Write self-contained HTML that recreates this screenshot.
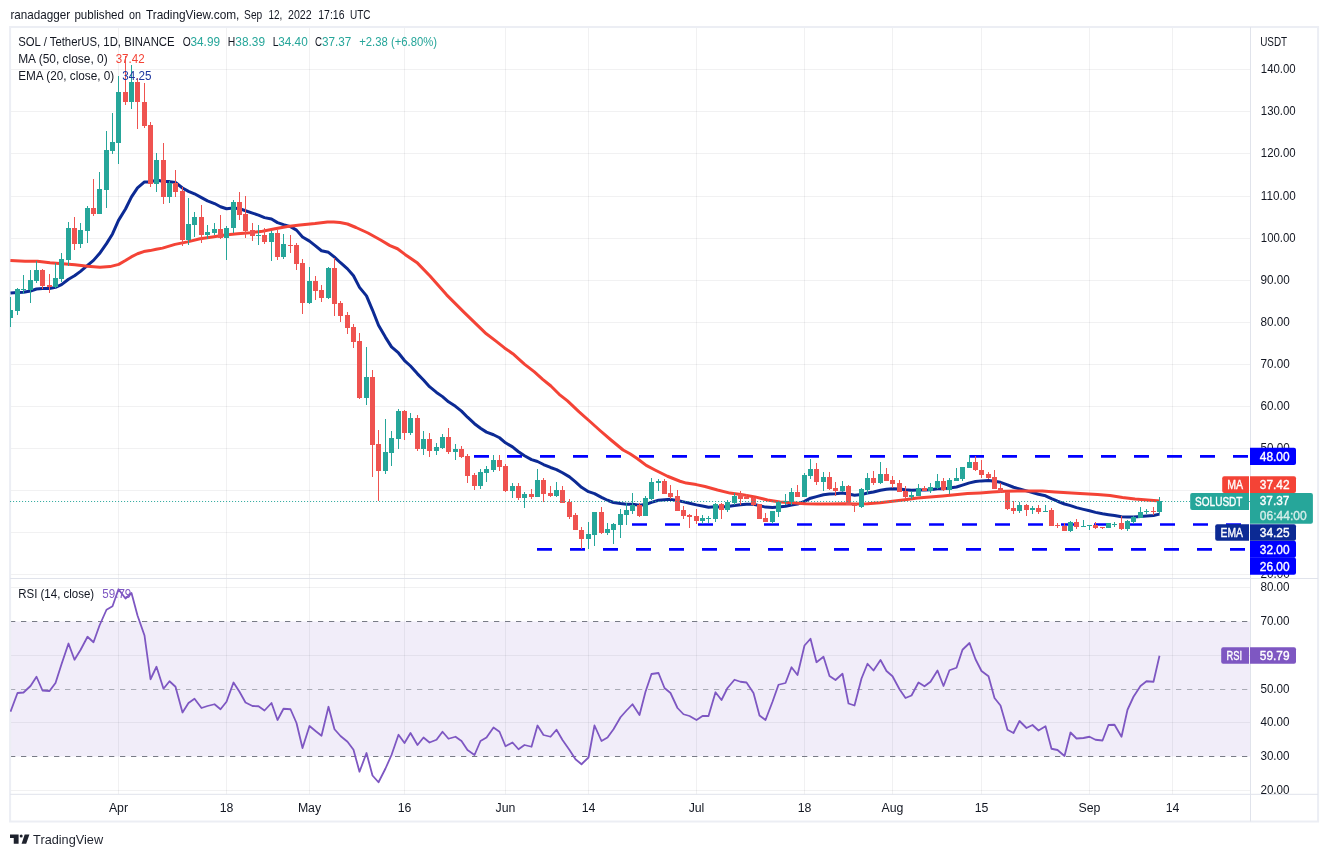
<!DOCTYPE html>
<html><head><meta charset="utf-8"><title>SOL / TetherUS</title>
<style>html,body{margin:0;padding:0;background:#fff}svg{display:block}</style>
</head><body>
<svg width="1328" height="857" viewBox="0 0 1328 857" font-family="Liberation Sans, sans-serif" font-size="12.3" fill="#131722" style="will-change:transform">
<rect width="1328" height="857" fill="#fff"/>
<defs>
<clipPath id="cm"><rect x="10" y="27.05" width="1240.5" height="551.45"/></clipPath>
<clipPath id="cr"><rect x="10" y="578.5" width="1240.5" height="215.79999999999995"/></clipPath>
<clipPath id="cam"><rect x="1250.5" y="27.05" width="67.59999999999991" height="551.45"/></clipPath>
<clipPath id="car"><rect x="1250.5" y="578.5" width="67.59999999999991" height="215.79999999999995"/></clipPath>
</defs>
<rect x="10.1" y="621.5" width="1240.4" height="135" fill="#f1edf9"/>
<path d="M118.50 27.05V794.3M226.50 27.05V794.3M309.50 27.05V794.3M404.50 27.05V794.3M505.50 27.05V794.3M588.50 27.05V794.3M696.50 27.05V794.3M804.50 27.05V794.3M892.50 27.05V794.3M981.50 27.05V794.3M1089.50 27.05V794.3M1172.50 27.05V794.3M10.1 69.50H1250.5M10.1 111.50H1250.5M10.1 153.50H1250.5M10.1 196.50H1250.5M10.1 238.50H1250.5M10.1 280.50H1250.5M10.1 322.50H1250.5M10.1 364.50H1250.5M10.1 406.50H1250.5M10.1 448.50H1250.5M10.1 490.50H1250.5M10.1 532.50H1250.5M10.1 574.50H1250.5M10.1 587.50H1250.5M10.1 655.50H1250.5M10.1 722.50H1250.5M10.1 790.50H1250.5" stroke="#2a2e39" stroke-opacity="0.065" stroke-width="1" fill="none"/>
<path d="M10.0 621.50H1250.5" stroke="#787b86" stroke-width="1" stroke-dasharray="5.3 5.7" fill="none"/>
<path d="M10.0 756.50H1250.5" stroke="#787b86" stroke-width="1" stroke-dasharray="5.3 5.7" fill="none"/>
<path d="M10.0 689.50H1250.5" stroke="#a9abb5" stroke-width="1" stroke-dasharray="5.3 5.7" fill="none"/>
<rect x="10.1" y="27.05" width="1308.0" height="794.45" fill="none" stroke="#eceef4" stroke-width="2"/>
<g clip-path="url(#cm)">
<path d="M474 456.40H1250.5" stroke="#0000ff" stroke-width="2.7" stroke-dasharray="15 18" fill="none"/>
<path d="M632 524.50H1250.5" stroke="#0000ff" stroke-width="2.7" stroke-dasharray="15 18" fill="none"/>
<path d="M537 549.40H1250.5" stroke="#0000ff" stroke-width="2.7" stroke-dasharray="15 18" fill="none"/>
<path d="M10.50 292.99 L17.50 292.57 L23.50 292.20 L30.50 291.00 L36.50 288.96 L42.50 288.60 L49.50 288.40 L55.50 287.38 L61.50 284.65 L68.50 279.23 L74.50 275.79 L80.50 271.39 L87.50 265.33 L93.50 260.38 L99.50 253.54 L106.50 243.64 L112.50 233.94 L118.50 220.40 L125.50 209.04 L131.50 196.93 L137.50 187.90 L144.50 181.93 L150.50 182.06 L156.50 179.92 L163.50 181.50 L169.50 181.62 L175.50 182.56 L182.50 187.97 L188.50 191.36 L194.50 193.77 L201.50 197.64 L207.50 200.90 L214.50 203.55 L220.50 206.74 L226.50 208.74 L233.50 208.08 L239.50 208.67 L245.50 210.75 L252.50 213.08 L258.50 215.13 L264.50 217.64 L271.50 219.07 L277.50 222.64 L283.50 224.63 L290.50 226.63 L296.50 230.13 L302.50 237.00 L309.50 241.16 L315.50 245.83 L321.50 250.74 L328.50 252.33 L334.50 257.19 L340.50 262.74 L347.50 268.89 L353.50 275.81 L359.50 287.39 L366.50 295.90 L372.50 310.04 L378.50 325.32 L385.50 337.36 L391.50 346.92 L398.50 352.98 L404.50 360.54 L410.50 365.99 L417.50 373.83 L423.50 380.00 L429.50 386.69 L436.50 392.41 L442.50 396.63 L448.50 401.85 L455.50 406.30 L461.50 411.08 L467.50 417.21 L474.50 423.71 L480.50 428.29 L486.50 432.13 L493.50 434.74 L499.50 437.76 L505.50 442.80 L512.50 446.90 L518.50 451.71 L524.50 455.70 L531.50 459.59 L537.50 461.49 L543.50 464.53 L550.50 467.49 L556.50 469.59 L562.50 472.72 L569.50 476.89 L575.50 481.89 L581.50 487.26 L588.50 491.69 L594.50 493.60 L601.50 497.30 L607.50 500.28 L613.50 502.51 L620.50 503.58 L626.50 504.15 L632.50 504.20 L639.50 505.27 L645.50 504.55 L651.50 502.38 L658.50 500.30 L664.50 499.67 L670.50 499.36 L677.50 500.42 L683.50 501.85 L689.50 503.22 L696.50 504.87 L702.50 506.09 L708.50 507.20 L715.50 506.87 L721.50 507.10 L727.50 506.59 L734.50 505.54 L740.50 504.86 L746.50 504.24 L753.50 504.25 L759.50 505.59 L765.50 507.11 L772.50 507.44 L778.50 506.89 L785.50 506.32 L791.50 504.93 L797.50 504.12 L804.50 501.31 L810.50 498.20 L816.50 496.60 L823.50 494.71 L829.50 494.10 L835.50 493.76 L842.50 492.98 L848.50 494.06 L854.50 495.21 L861.50 494.59 L867.50 492.99 L873.50 491.99 L880.50 490.23 L886.50 489.31 L892.50 488.74 L899.50 489.00 L905.50 489.71 L911.50 490.18 L918.50 489.94 L924.50 489.99 L930.50 489.68 L937.50 488.82 L943.50 488.87 L949.50 487.99 L956.50 487.01 L962.50 485.08 L969.50 482.85 L975.50 481.57 L981.50 480.88 L988.50 480.56 L994.50 481.30 L1000.50 482.33 L1007.50 484.80 L1013.50 487.25 L1019.50 488.90 L1026.50 490.85 L1032.50 492.46 L1038.50 494.27 L1045.50 495.79 L1051.50 498.61 L1057.50 501.23 L1064.50 503.99 L1070.50 505.68 L1076.50 507.64 L1083.50 509.34 L1089.50 510.79 L1095.50 512.37 L1102.50 513.81 L1108.50 514.66 L1114.50 515.48 L1121.50 516.71 L1127.50 517.08 L1133.50 517.05 L1140.50 516.54 L1146.50 515.97 L1153.50 515.55 L1159.50 514.15" stroke="#0c2a94" stroke-width="3" fill="none" stroke-linejoin="round" stroke-linecap="butt"/>
<path d="M10.40 260.60 L25.00 261.25 L37.50 261.25 L50.00 262.75 L62.50 263.75 L75.00 264.75 L87.50 266.25 L100.00 267.25 L110.00 266.60 L118.75 264.40 L125.00 260.80 L131.25 256.90 L137.50 253.75 L143.75 251.60 L150.00 250.60 L156.25 249.30 L162.50 248.10 L175.00 244.40 L187.50 241.90 L200.00 238.75 L212.50 236.90 L225.00 235.00 L237.50 233.75 L250.00 232.75 L262.50 231.25 L275.00 228.75 L287.50 226.50 L300.00 225.00 L315.00 223.50 L327.50 221.90 L333.75 221.90 L340.00 222.50 L347.50 224.00 L356.00 227.50 L368.00 233.00 L380.60 240.00 L390.00 245.60 L397.50 248.75 L405.00 254.40 L417.50 263.10 L430.00 276.00 L446.60 294.85 L463.10 311.40 L486.30 333.80 L496.30 341.40 L504.50 347.90 L512.80 353.70 L524.40 364.10 L534.40 371.90 L542.70 379.30 L550.90 386.00 L559.20 394.30 L567.50 400.90 L579.10 411.80 L590.00 421.50 L600.00 430.50 L611.00 440.00 L623.10 450.00 L630.00 453.80 L637.50 458.75 L646.25 465.40 L655.00 470.00 L667.50 476.25 L680.00 481.25 L686.25 483.10 L696.25 484.60 L705.00 486.50 L717.50 490.00 L730.00 493.10 L742.50 494.75 L755.00 496.90 L767.50 500.00 L780.00 502.10 L792.50 502.75 L805.00 503.75 L817.50 504.10 L830.00 504.00 L842.50 503.75 L855.00 504.00 L867.50 503.75 L880.00 502.75 L892.50 501.25 L905.00 499.75 L917.50 498.10 L930.00 497.10 L942.50 496.00 L955.00 494.75 L967.50 493.50 L980.00 492.90 L992.50 492.10 L1005.00 491.25 L1017.50 491.00 L1030.00 490.90 L1042.50 491.00 L1055.00 491.90 L1067.50 492.75 L1080.00 493.60 L1097.50 494.60 L1110.00 495.60 L1122.50 497.50 L1135.00 499.10 L1147.50 500.00 L1160.00 500.90" stroke="#f44336" stroke-width="3" fill="none" stroke-linejoin="round"/>
<path d="M10.50 297.00V327.00M17.50 288.00V315.00M23.50 275.00V294.00M30.50 270.00V303.00M36.50 261.00V283.00M55.50 263.00V288.00M61.50 253.00V282.00M68.50 222.00V266.00M80.50 223.00V248.00M87.50 206.00V243.00M99.50 172.00V214.00M106.50 131.00V208.00M112.50 113.00V154.00M118.50 76.00V164.00M131.50 65.00V109.00M156.50 153.00V192.00M169.50 181.00V203.00M188.50 198.00V245.00M194.50 212.00V237.00M207.50 225.00V239.00M214.50 223.00V235.00M226.50 226.00V260.00M233.50 200.00V233.00M258.50 225.00V245.00M271.50 231.00V261.00M283.50 234.00V259.00M309.50 267.00V304.00M328.50 267.00V299.00M366.50 347.00V405.00M385.50 419.00V474.00M391.50 431.00V466.00M398.50 409.00V449.00M410.50 413.00V435.00M423.50 431.00V455.00M436.50 443.00V455.00M442.50 434.00V449.00M455.50 444.00V460.00M480.50 469.00V489.00M486.50 466.00V482.00M493.50 455.00V472.00M512.50 483.00V498.00M524.50 492.00V508.00M537.50 469.00V497.00M556.50 482.00V497.00M588.50 522.00V549.00M594.50 512.00V546.00M607.50 523.00V535.00M613.50 523.00V544.00M620.50 509.00V538.00M626.50 503.00V525.00M632.50 493.00V514.00M645.50 496.00V516.00M651.50 478.00V500.00M658.50 479.00V491.00M702.50 515.00V524.00M708.50 516.00V523.00M715.50 503.00V522.00M727.50 500.00V512.00M734.50 493.00V505.00M772.50 511.00V524.00M778.50 501.00V517.00M785.50 494.00V505.00M791.50 488.00V505.00M804.50 473.00V497.00M810.50 459.00V479.00M823.50 472.00V491.00M842.50 481.00V492.00M861.50 488.00V508.00M867.50 473.00V494.00M880.50 462.00V484.00M911.50 491.00V499.00M918.50 484.00V496.00M930.50 483.00V493.00M937.50 474.00V489.00M949.50 478.00V494.00M956.50 468.00V481.00M962.50 467.00V481.00M969.50 455.00V468.00M1019.50 502.00V513.00M1032.50 506.00V514.00M1045.50 505.00V512.00M1070.50 521.00V532.00M1083.50 520.00V527.00M1089.50 525.00V530.00M1108.50 523.00V528.00M1114.50 522.00V527.00M1127.50 520.00V531.00M1133.50 516.00V524.00M1140.50 507.00V518.00M1146.50 509.00V514.00M1159.50 497.00V514.00" stroke="#26a69a" stroke-width="1" fill="none"/>
<path d="M42.50 269.00V289.00M49.50 274.00V293.00M74.50 217.00V250.00M93.50 179.00V216.00M125.50 56.00V105.00M137.50 78.00V129.00M144.50 83.00V128.00M150.50 122.00V187.00M163.50 143.00V204.00M175.50 170.00V197.00M182.50 187.00V246.00M201.50 205.00V243.00M220.50 215.00V239.00M239.50 192.00V220.00M245.50 196.00V238.00M252.50 223.00V241.00M264.50 228.00V244.00M277.50 230.00V260.00M290.50 235.00V253.00M296.50 243.00V270.00M302.50 259.00V314.00M315.50 276.00V300.00M321.50 285.00V302.00M334.50 258.00V316.00M340.50 301.00V322.00M347.50 312.00V334.00M353.50 324.00V348.00M359.50 333.00V399.00M372.50 370.00V477.00M378.50 430.00V501.00M404.50 410.00V440.00M417.50 415.00V451.00M429.50 433.00V457.00M448.50 428.00V454.00M461.50 446.00V458.00M467.50 454.00V483.00M474.50 473.00V490.00M499.50 455.00V471.00M505.50 464.00V492.00M518.50 483.00V500.00M531.50 489.00V499.00M543.50 478.00V502.00M550.50 486.00V497.00M562.50 486.00V503.00M569.50 499.00V519.00M575.50 513.00V530.00M581.50 527.00V549.00M601.50 507.00V534.00M639.50 503.00V517.00M664.50 479.00V494.00M670.50 485.00V499.00M677.50 490.00V511.00M683.50 506.00V519.00M689.50 514.00V528.00M696.50 509.00V524.00M721.50 503.00V519.00M740.50 491.00V505.00M746.50 494.00V499.00M753.50 497.00V506.00M759.50 504.00V519.00M765.50 513.00V522.00M797.50 485.00V497.00M816.50 463.00V485.00M829.50 472.00V490.00M835.50 482.00V496.00M848.50 485.00V505.00M854.50 504.00V512.00M873.50 471.00V485.00M886.50 468.00V481.00M892.50 476.00V488.00M899.50 480.00V492.00M905.50 486.00V499.00M924.50 486.00V491.00M943.50 478.00V491.00M975.50 456.00V471.00M981.50 460.00V478.00M988.50 472.00V479.00M994.50 470.00V489.00M1000.50 483.00V493.00M1007.50 492.00V510.00M1013.50 501.00V514.00M1026.50 504.00V516.00M1038.50 505.00V514.00M1051.50 508.00V526.00M1057.50 523.00V528.00M1064.50 523.00V531.00M1076.50 519.00V529.00M1095.50 522.00V529.00M1102.50 527.00V529.00M1121.50 516.00V530.00M1153.50 507.00V515.00" stroke="#ef5350" stroke-width="1" fill="none"/>
<path d="M8.00 310.00h5V318.00h-5zM15.00 289.00h5V311.00h-5zM21.00 289.00h5V290.00h-5zM28.00 280.00h5V290.00h-5zM34.00 270.00h5V281.00h-5zM53.00 278.00h5V287.00h-5zM59.00 259.00h5V279.00h-5zM66.00 228.00h5V260.00h-5zM78.00 230.00h5V244.00h-5zM85.00 208.00h5V231.00h-5zM97.00 189.00h5V214.00h-5zM104.00 150.00h5V190.00h-5zM110.00 142.00h5V151.00h-5zM116.00 92.00h5V143.00h-5zM129.00 82.00h5V102.00h-5zM154.00 160.00h5V184.00h-5zM167.00 183.00h5V197.00h-5zM186.00 224.00h5V240.00h-5zM192.00 217.00h5V225.00h-5zM205.00 232.00h5V235.00h-5zM212.00 229.00h5V233.00h-5zM224.00 228.00h5V238.00h-5zM231.00 202.00h5V228.00h-5zM256.00 235.00h5V236.00h-5zM269.00 233.00h5V242.00h-5zM281.00 244.00h5V257.00h-5zM307.00 281.00h5V303.00h-5zM326.00 268.00h5V298.00h-5zM364.00 377.00h5V398.00h-5zM383.00 452.00h5V471.00h-5zM389.00 438.00h5V453.00h-5zM396.00 411.00h5V439.00h-5zM408.00 418.00h5V433.00h-5zM421.00 439.00h5V449.00h-5zM434.00 447.00h5V451.00h-5zM440.00 437.00h5V448.00h-5zM453.00 449.00h5V452.00h-5zM478.00 472.00h5V486.00h-5zM484.00 469.00h5V473.00h-5zM491.00 460.00h5V470.00h-5zM510.00 486.00h5V491.00h-5zM522.00 494.00h5V498.00h-5zM535.00 480.00h5V497.00h-5zM554.00 490.00h5V496.00h-5zM586.00 534.00h5V539.00h-5zM592.00 512.00h5V535.00h-5zM605.00 529.00h5V533.00h-5zM611.00 524.00h5V530.00h-5zM618.00 514.00h5V525.00h-5zM624.00 510.00h5V515.00h-5zM630.00 505.00h5V511.00h-5zM643.00 498.00h5V516.00h-5zM649.00 482.00h5V499.00h-5zM656.00 481.00h5V483.00h-5zM700.00 518.00h5V521.00h-5zM706.00 518.00h5V519.00h-5zM713.00 504.00h5V519.00h-5zM725.00 502.00h5V510.00h-5zM732.00 496.00h5V503.00h-5zM770.00 511.00h5V522.00h-5zM776.00 502.00h5V512.00h-5zM783.00 501.00h5V502.00h-5zM789.00 492.00h5V502.00h-5zM802.00 475.00h5V497.00h-5zM808.00 469.00h5V476.00h-5zM821.00 477.00h5V482.00h-5zM840.00 486.00h5V491.00h-5zM859.00 489.00h5V507.00h-5zM865.00 478.00h5V490.00h-5zM878.00 474.00h5V483.00h-5zM909.00 495.00h5V497.00h-5zM916.00 488.00h5V496.00h-5zM928.00 487.00h5V491.00h-5zM935.00 481.00h5V488.00h-5zM947.00 480.00h5V490.00h-5zM954.00 478.00h5V481.00h-5zM960.00 467.00h5V479.00h-5zM967.00 462.00h5V468.00h-5zM1017.00 505.00h5V511.00h-5zM1030.00 508.00h5V510.00h-5zM1043.00 511.00h5V512.00h-5zM1068.00 522.00h5V531.00h-5zM1081.00 526.00h5V527.00h-5zM1087.00 525.00h5V526.00h-5zM1106.00 523.00h5V528.00h-5zM1112.00 524.00h5V525.00h-5zM1125.00 521.00h5V529.00h-5zM1131.00 517.00h5V522.00h-5zM1138.00 512.00h5V518.00h-5zM1144.00 511.00h5V512.00h-5zM1157.00 501.00h5V512.00h-5z" fill="#26a69a"/>
<path d="M40.00 270.00h5V286.00h-5zM47.00 285.00h5V287.00h-5zM72.00 228.00h5V244.00h-5zM91.00 208.00h5V214.00h-5zM123.00 92.00h5V102.00h-5zM135.00 82.00h5V102.00h-5zM142.00 102.00h5V126.00h-5zM148.00 125.00h5V184.00h-5zM161.00 160.00h5V197.00h-5zM173.00 183.00h5V192.00h-5zM180.00 191.00h5V240.00h-5zM199.00 217.00h5V235.00h-5zM218.00 229.00h5V238.00h-5zM237.00 202.00h5V215.00h-5zM243.00 214.00h5V231.00h-5zM250.00 230.00h5V236.00h-5zM262.00 235.00h5V242.00h-5zM275.00 233.00h5V257.00h-5zM288.00 245.00h5V246.00h-5zM294.00 245.00h5V264.00h-5zM300.00 263.00h5V303.00h-5zM313.00 281.00h5V291.00h-5zM319.00 290.00h5V298.00h-5zM332.00 268.00h5V304.00h-5zM338.00 303.00h5V316.00h-5zM345.00 315.00h5V328.00h-5zM351.00 327.00h5V342.00h-5zM357.00 341.00h5V398.00h-5zM370.00 377.00h5V445.00h-5zM376.00 444.00h5V471.00h-5zM402.00 411.00h5V433.00h-5zM415.00 418.00h5V449.00h-5zM427.00 439.00h5V451.00h-5zM446.00 437.00h5V452.00h-5zM459.00 449.00h5V457.00h-5zM465.00 456.00h5V476.00h-5zM472.00 475.00h5V486.00h-5zM497.00 460.00h5V467.00h-5zM503.00 466.00h5V491.00h-5zM516.00 486.00h5V498.00h-5zM529.00 494.00h5V497.00h-5zM541.00 480.00h5V494.00h-5zM548.00 493.00h5V496.00h-5zM560.00 490.00h5V503.00h-5zM567.00 502.00h5V517.00h-5zM573.00 515.00h5V530.00h-5zM579.00 530.00h5V539.00h-5zM599.00 512.00h5V533.00h-5zM637.00 505.00h5V516.00h-5zM662.00 481.00h5V494.00h-5zM668.00 493.00h5V497.00h-5zM675.00 496.00h5V511.00h-5zM681.00 510.00h5V516.00h-5zM687.00 515.00h5V517.00h-5zM694.00 516.00h5V521.00h-5zM719.00 504.00h5V510.00h-5zM738.00 494.00h5V499.00h-5zM744.00 497.00h5V499.00h-5zM751.00 498.00h5V505.00h-5zM757.00 504.00h5V519.00h-5zM763.00 518.00h5V522.00h-5zM795.00 492.00h5V497.00h-5zM814.00 469.00h5V482.00h-5zM827.00 477.00h5V489.00h-5zM833.00 488.00h5V491.00h-5zM846.00 486.00h5V505.00h-5zM852.00 504.00h5V506.00h-5zM871.00 478.00h5V483.00h-5zM884.00 474.00h5V481.00h-5zM890.00 480.00h5V484.00h-5zM897.00 483.00h5V492.00h-5zM903.00 491.00h5V497.00h-5zM922.00 488.00h5V491.00h-5zM941.00 481.00h5V490.00h-5zM973.00 462.00h5V470.00h-5zM979.00 470.00h5V475.00h-5zM986.00 474.00h5V478.00h-5zM992.00 477.00h5V489.00h-5zM998.00 488.00h5V492.00h-5zM1005.00 492.00h5V509.00h-5zM1011.00 508.00h5V511.00h-5zM1024.00 505.00h5V510.00h-5zM1036.00 508.00h5V512.00h-5zM1049.00 510.00h5V526.00h-5zM1055.00 525.00h5V526.00h-5zM1062.00 526.00h5V531.00h-5zM1074.00 522.00h5V527.00h-5zM1093.00 525.00h5V528.00h-5zM1100.00 527.00h5V528.00h-5zM1119.00 523.00h5V529.00h-5zM1151.00 511.00h5V512.00h-5z" fill="#ef5350"/>
<path d="M10.1 501.50H1250.5" stroke="#26a69a" stroke-width="1" stroke-dasharray="1 2" fill="none"/>
</g>
<g clip-path="url(#cr)">
<path d="M10.50 711.75 L17.50 693.00 L23.50 692.50 L30.50 686.00 L36.50 676.75 L42.50 690.50 L49.50 691.00 L55.50 683.00 L61.50 664.25 L68.50 643.50 L74.50 659.75 L80.50 650.00 L87.50 636.75 L93.50 642.25 L99.50 625.50 L106.50 609.75 L112.50 606.25 L118.50 589.25 L125.50 598.50 L131.50 593.00 L137.50 615.50 L144.50 635.50 L150.50 679.25 L156.50 666.75 L163.50 688.75 L169.50 681.25 L175.50 686.75 L182.50 712.50 L188.50 703.00 L194.50 698.75 L201.50 708.00 L207.50 706.00 L214.50 704.25 L220.50 709.25 L226.50 701.75 L233.50 682.50 L239.50 691.75 L245.50 702.50 L252.50 706.00 L258.50 706.25 L264.50 710.50 L271.50 703.00 L277.50 720.00 L283.50 708.75 L290.50 709.25 L296.50 723.00 L302.50 748.00 L309.50 726.00 L315.50 731.00 L321.50 735.75 L328.50 706.75 L334.50 729.25 L340.50 736.00 L347.50 741.75 L353.50 749.75 L359.50 771.75 L366.50 753.00 L372.50 775.50 L378.50 782.25 L385.50 768.50 L391.50 755.00 L398.50 734.75 L404.50 743.00 L410.50 733.00 L417.50 745.00 L423.50 737.50 L429.50 742.50 L436.50 739.75 L442.50 731.75 L448.50 738.75 L455.50 736.75 L461.50 741.00 L467.50 750.00 L474.50 755.00 L480.50 741.00 L486.50 737.50 L493.50 727.50 L499.50 731.75 L505.50 746.25 L512.50 742.50 L518.50 749.25 L524.50 745.00 L531.50 746.75 L537.50 725.50 L543.50 735.00 L550.50 736.75 L556.50 729.75 L562.50 740.00 L569.50 750.00 L575.50 759.25 L581.50 764.25 L588.50 757.50 L594.50 725.50 L601.50 741.00 L607.50 737.50 L613.50 729.25 L620.50 717.25 L626.50 710.50 L632.50 704.25 L639.50 715.00 L645.50 691.75 L651.50 674.00 L658.50 673.00 L664.50 688.00 L670.50 693.00 L677.50 708.00 L683.50 714.25 L689.50 716.00 L696.50 720.00 L702.50 716.00 L708.50 716.00 L715.50 692.25 L721.50 700.00 L727.50 688.00 L734.50 679.75 L740.50 681.75 L746.50 682.50 L753.50 693.00 L759.50 715.50 L765.50 720.00 L772.50 701.75 L778.50 684.75 L785.50 683.00 L791.50 667.25 L797.50 675.00 L804.50 645.50 L810.50 638.75 L816.50 662.25 L823.50 656.75 L829.50 676.00 L835.50 680.00 L842.50 673.75 L848.50 703.50 L854.50 705.50 L861.50 678.50 L867.50 663.75 L873.50 670.50 L880.50 660.00 L886.50 671.00 L892.50 676.25 L899.50 689.25 L905.50 698.00 L911.50 695.50 L918.50 682.50 L924.50 686.25 L930.50 681.75 L937.50 670.50 L943.50 686.00 L949.50 670.25 L956.50 667.75 L962.50 649.75 L969.50 643.00 L975.50 659.25 L981.50 671.00 L988.50 676.25 L994.50 698.00 L1000.50 705.50 L1007.50 729.75 L1013.50 733.00 L1019.50 721.00 L1026.50 728.00 L1032.50 725.00 L1038.50 730.50 L1045.50 726.25 L1051.50 748.75 L1057.50 750.00 L1064.50 756.00 L1070.50 732.50 L1076.50 738.50 L1083.50 738.00 L1089.50 736.75 L1095.50 739.75 L1102.50 740.50 L1108.50 725.00 L1114.50 724.75 L1121.50 736.75 L1127.50 709.75 L1133.50 696.75 L1140.50 686.00 L1146.50 681.25 L1153.50 681.75 L1159.50 655.75" stroke="#7e57c2" stroke-width="1.8" fill="none" stroke-linejoin="round"/>
</g>
<path d="M10.1 578.5H1318.1M10.1 794.3H1318.1M1250.5 27.05V821.5" stroke="#e0e3eb" stroke-width="1" fill="none"/>
<text x="10.40" y="18.90" textLength="59.70" lengthAdjust="spacingAndGlyphs" font-size="12.6" >ranadagger</text>
<text x="74.40" y="18.90" textLength="49.60" lengthAdjust="spacingAndGlyphs" font-size="12.6" >published</text>
<text x="128.90" y="18.90" textLength="12.00" lengthAdjust="spacingAndGlyphs" font-size="12.6" >on</text>
<text x="145.90" y="18.90" textLength="93.50" lengthAdjust="spacingAndGlyphs" font-size="12.6" >TradingView.com,</text>
<text x="244.10" y="18.90" textLength="18.10" lengthAdjust="spacingAndGlyphs" font-size="12.6" >Sep</text>
<text x="268.50" y="18.90" textLength="13.80" lengthAdjust="spacingAndGlyphs" font-size="12.6" >12,</text>
<text x="288.00" y="18.90" textLength="23.60" lengthAdjust="spacingAndGlyphs" font-size="12.6" >2022</text>
<text x="318.30" y="18.90" textLength="26.20" lengthAdjust="spacingAndGlyphs" font-size="12.6" >17:16</text>
<text x="349.90" y="18.90" textLength="20.60" lengthAdjust="spacingAndGlyphs" font-size="12.6" >UTC</text>
<text x="18.20" y="45.70" textLength="156.40" lengthAdjust="spacingAndGlyphs" >SOL / TetherUS, 1D, BINANCE</text>
<text x="182.70" y="45.70" textLength="8.00" lengthAdjust="spacingAndGlyphs" >O</text>
<text x="190.50" y="45.70" textLength="29.50" lengthAdjust="spacingAndGlyphs" fill="#26a69a" >34.99</text>
<text x="227.70" y="45.70" textLength="7.50" lengthAdjust="spacingAndGlyphs" >H</text>
<text x="235.30" y="45.70" textLength="29.70" lengthAdjust="spacingAndGlyphs" fill="#26a69a" >38.39</text>
<text x="272.80" y="45.70" textLength="5.80" lengthAdjust="spacingAndGlyphs" >L</text>
<text x="278.20" y="45.70" textLength="29.50" lengthAdjust="spacingAndGlyphs" fill="#26a69a" >34.40</text>
<text x="315.10" y="45.70" textLength="7.00" lengthAdjust="spacingAndGlyphs" >C</text>
<text x="322.00" y="45.70" textLength="29.40" lengthAdjust="spacingAndGlyphs" fill="#26a69a" >37.37</text>
<text x="359.20" y="45.70" textLength="77.90" lengthAdjust="spacingAndGlyphs" fill="#26a69a" >+2.38 (+6.80%)</text>
<text x="18.20" y="62.80" textLength="89.50" lengthAdjust="spacingAndGlyphs" >MA (50, close, 0)</text>
<text x="115.70" y="62.80" textLength="28.90" lengthAdjust="spacingAndGlyphs" fill="#f44336" >37.42</text>
<text x="18.20" y="79.90" textLength="96.10" lengthAdjust="spacingAndGlyphs" >EMA (20, close, 0)</text>
<text x="122.30" y="79.90" textLength="29.20" lengthAdjust="spacingAndGlyphs" fill="#1e37a0" >34.25</text>
<text x="18.20" y="598.00" textLength="76.00" lengthAdjust="spacingAndGlyphs" >RSI (14, close)</text>
<text x="102.30" y="598.00" textLength="29.00" lengthAdjust="spacingAndGlyphs" fill="#7e57c2" >59.79</text>
<g clip-path="url(#cam)">
<text x="1260.20" y="45.50" textLength="27.00" lengthAdjust="spacingAndGlyphs" >USDT</text>
<text x="1260.50" y="578.20" textLength="29.30" lengthAdjust="spacingAndGlyphs" font-size="12.6" >20.00</text>
<text x="1260.50" y="536.20" textLength="29.30" lengthAdjust="spacingAndGlyphs" font-size="12.6" >30.00</text>
<text x="1260.50" y="494.20" textLength="29.30" lengthAdjust="spacingAndGlyphs" font-size="12.6" >40.00</text>
<text x="1260.50" y="452.20" textLength="29.30" lengthAdjust="spacingAndGlyphs" font-size="12.6" >50.00</text>
<text x="1260.50" y="410.20" textLength="29.30" lengthAdjust="spacingAndGlyphs" font-size="12.6" >60.00</text>
<text x="1260.50" y="368.20" textLength="29.30" lengthAdjust="spacingAndGlyphs" font-size="12.6" >70.00</text>
<text x="1260.50" y="326.20" textLength="29.30" lengthAdjust="spacingAndGlyphs" font-size="12.6" >80.00</text>
<text x="1260.50" y="284.20" textLength="29.30" lengthAdjust="spacingAndGlyphs" font-size="12.6" >90.00</text>
<text x="1260.80" y="242.20" textLength="34.90" lengthAdjust="spacingAndGlyphs" font-size="12.6" >100.00</text>
<text x="1260.80" y="200.20" textLength="34.90" lengthAdjust="spacingAndGlyphs" font-size="12.6" >110.00</text>
<text x="1260.80" y="157.20" textLength="34.90" lengthAdjust="spacingAndGlyphs" font-size="12.6" >120.00</text>
<text x="1260.80" y="115.20" textLength="34.90" lengthAdjust="spacingAndGlyphs" font-size="12.6" >130.00</text>
<text x="1260.80" y="73.20" textLength="34.90" lengthAdjust="spacingAndGlyphs" font-size="12.6" >140.00</text>
</g>
<g clip-path="url(#car)">
<text x="1260.40" y="793.80" textLength="29.20" lengthAdjust="spacingAndGlyphs" font-size="12.6" >20.00</text>
<text x="1260.40" y="759.80" textLength="29.20" lengthAdjust="spacingAndGlyphs" font-size="12.6" >30.00</text>
<text x="1260.40" y="725.80" textLength="29.20" lengthAdjust="spacingAndGlyphs" font-size="12.6" >40.00</text>
<text x="1260.40" y="692.80" textLength="29.20" lengthAdjust="spacingAndGlyphs" font-size="12.6" >50.00</text>
<text x="1260.40" y="658.80" textLength="29.20" lengthAdjust="spacingAndGlyphs" font-size="12.6" >60.00</text>
<text x="1260.40" y="624.80" textLength="29.20" lengthAdjust="spacingAndGlyphs" font-size="12.6" >70.00</text>
<text x="1260.40" y="590.80" textLength="29.20" lengthAdjust="spacingAndGlyphs" font-size="12.6" >80.00</text>
</g>
<text x="118.50" y="812.00" text-anchor="middle" >Apr</text>
<text x="226.50" y="812.00" text-anchor="middle" >18</text>
<text x="309.50" y="812.00" text-anchor="middle" >May</text>
<text x="404.50" y="812.00" text-anchor="middle" >16</text>
<text x="505.50" y="812.00" text-anchor="middle" >Jun</text>
<text x="588.50" y="812.00" text-anchor="middle" >14</text>
<text x="696.50" y="812.00" text-anchor="middle" >Jul</text>
<text x="804.50" y="812.00" text-anchor="middle" >18</text>
<text x="892.50" y="812.00" text-anchor="middle" >Aug</text>
<text x="981.50" y="812.00" text-anchor="middle" >15</text>
<text x="1089.50" y="812.00" text-anchor="middle" >Sep</text>
<text x="1172.50" y="812.00" text-anchor="middle" >14</text>
<path d="M1250 447.7H1294Q1296 447.7 1296 449.7V463Q1296 465 1294 465H1250V447.7z" fill="#0000ff"/>
<text x="1259.80" y="460.60" textLength="29.80" lengthAdjust="spacingAndGlyphs" fill="#ffffff" stroke="#ffffff" stroke-width="0.35" >48.00</text>
<path d="M1250 476.3H1294Q1296 476.3 1296 478.3V490.9Q1296 492.9 1294 492.9H1250V476.3z" fill="#f44336"/>
<text x="1259.80" y="488.90" textLength="29.80" lengthAdjust="spacingAndGlyphs" fill="#ffffff" stroke="#ffffff" stroke-width="0.35" >37.42</text>
<path d="M1250 557.6H1294Q1296 557.6 1296 559.6V572.8Q1296 574.8 1294 574.8H1250V557.6z" fill="#0000ff"/>
<text x="1259.80" y="570.50" textLength="29.80" lengthAdjust="spacingAndGlyphs" fill="#ffffff" stroke="#ffffff" stroke-width="0.35" >26.00</text>
<path d="M1250 540.8H1294Q1296 540.8 1296 542.8V555.8Q1296 557.8 1294 557.8H1250V540.8z" fill="#0000ff"/>
<text x="1259.80" y="553.60" textLength="29.80" lengthAdjust="spacingAndGlyphs" fill="#ffffff" stroke="#ffffff" stroke-width="0.35" >32.00</text>
<path d="M1250 524.3H1294Q1296 524.3 1296 526.3V538.8Q1296 540.8 1294 540.8H1250V524.3z" fill="#0c2a94"/>
<text x="1259.80" y="536.80" textLength="29.80" lengthAdjust="spacingAndGlyphs" fill="#ffffff" stroke="#ffffff" stroke-width="0.35" >34.25</text>
<path d="M1250 493.1H1310.9Q1312.9 493.1 1312.9 495.1V521.8Q1312.9 523.8 1310.9 523.8H1250V493.1z" fill="#26a69a"/>
<text x="1259.80" y="505.40" textLength="29.60" lengthAdjust="spacingAndGlyphs" fill="#ffffff" stroke="#ffffff" stroke-width="0.35" >37.37</text>
<text x="1259.80" y="519.60" textLength="46.90" lengthAdjust="spacingAndGlyphs" fill="#d4edea" stroke="#d4edea" stroke-width="0.35" >06:44:00</text>
<path d="M1224.2 476.3H1249V492.9H1224.2Q1222.2 492.9 1222.2 490.9V478.3Q1222.2 476.3 1224.2 476.3z" fill="#f44336"/>
<text x="1227.20" y="488.90" textLength="15.90" lengthAdjust="spacingAndGlyphs" fill="#ffffff" stroke="#ffffff" stroke-width="0.35" >MA</text>
<path d="M1192.2 493.1H1249V509.9H1192.2Q1190.2 509.9 1190.2 507.9V495.1Q1190.2 493.1 1192.2 493.1z" fill="#26a69a"/>
<text x="1195.10" y="505.70" textLength="47.40" lengthAdjust="spacingAndGlyphs" fill="#ffffff" stroke="#ffffff" stroke-width="0.35" >SOLUSDT</text>
<path d="M1217.2 524.3H1249V540.8H1217.2Q1215.2 540.8 1215.2 538.8V526.3Q1215.2 524.3 1217.2 524.3z" fill="#0c2a94"/>
<text x="1220.60" y="536.80" textLength="22.40" lengthAdjust="spacingAndGlyphs" fill="#ffffff" stroke="#ffffff" stroke-width="0.35" >EMA</text>
<path d="M1223.2 647.2H1249V663.8H1223.2Q1221.2 663.8 1221.2 661.8V649.2Q1221.2 647.2 1223.2 647.2z" fill="#7e57c2"/>
<text x="1226.50" y="659.80" textLength="15.50" lengthAdjust="spacingAndGlyphs" fill="#ffffff" stroke="#ffffff" stroke-width="0.35" >RSI</text>
<path d="M1250 647.2H1294Q1296 647.2 1296 649.2V661.8Q1296 663.8 1294 663.8H1250V647.2z" fill="#7e57c2"/>
<text x="1259.80" y="659.80" textLength="29.80" lengthAdjust="spacingAndGlyphs" fill="#ffffff" stroke="#ffffff" stroke-width="0.35" >59.79</text>
<g fill="#1e222d">
<path d="M10 834.4H18.6V843.75H13.75V837.9H10z"/>
<circle cx="21.2" cy="836.1" r="1.5"/>
<path d="M24.7 834.4H29.4L26.2 843.75H21.6z"/>
</g>
<text x="33.10" y="843.75" textLength="70.00" lengthAdjust="spacingAndGlyphs" fill="#1e222d" font-size="13" >TradingView</text>
</svg>
</body></html>
